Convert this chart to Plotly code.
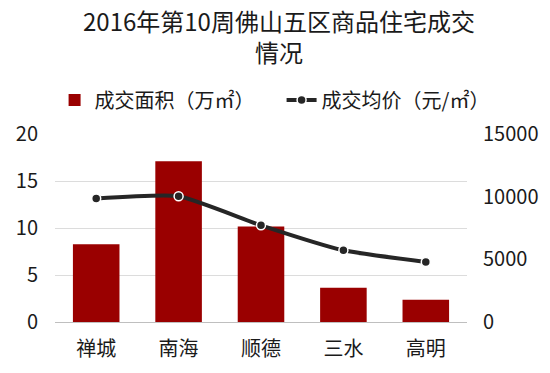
import plotly.graph_objects as go

categories = ["禅城", "南海", "顺德", "三水", "高明"]
area_values = [8.27, 17.1, 10.15, 3.65, 2.37]
price_values = [9850, 10030, 7715, 5720, 4790]
left_ticks = [0, 5, 10, 15, 20]
right_ticks = [0, 5000, 10000, 15000]
title_lines = ["2016年第10周佛山五区商品住宅成交", "情况"]

FONT = "Noto Sans CJK SC, Noto Sans, sans-serif"
TXT = "#1a1a1a"

fig = go.Figure()
fig.add_trace(go.Bar(
    x=categories, y=area_values, name="成交面积（万㎡）",
    marker=dict(color="#9A0000", line=dict(width=0)),
    yaxis="y",
))
fig.add_trace(go.Scatter(
    x=categories, y=price_values, name="成交均价（元/㎡）",
    mode="lines+markers",
    line=dict(color="#262626", width=4, shape="spline", smoothing=0.5),
    marker=dict(size=9, color="#262626", line=dict(color="white", width=1.5)),
    yaxis="y2",
))

# Two-line centred title
fig.add_annotation(
    text="<br>".join(title_lines), xref="paper", yref="paper",
    x=(271 - 47) / 412, y=(314 - 28) / 188,
    xanchor="center", yanchor="middle", showarrow=False, align="center",
    font=dict(size=24, color=TXT, family=FONT),
)

fig.update_layout(
    width=534, height=357,
    margin=dict(l=47, r=75, t=126, b=43, autoexpand=False),
    paper_bgcolor="white", plot_bgcolor="white",
    font=dict(family=FONT, color=TXT, size=20),
    bargap=0.435,
    showlegend=True,
    legend=dict(orientation="h", x=-0.001, xref="paper", xanchor="left",
                y=(314 - 92) / 188, yanchor="middle", font=dict(size=20, color=TXT),
                entrywidth=182, entrywidthmode="pixels", tracegroupgap=0,
                itemwidth=30),
    xaxis=dict(showgrid=False, showline=True, linecolor="#bfbfbf", linewidth=1,
               ticks="", tickfont=dict(size=20), automargin=False,
               ticklabelstandoff=9),
    yaxis=dict(range=[0, 20], tickvals=left_ticks, showgrid=True,
               gridcolor="#dcdcdc", gridwidth=1, zeroline=False,
               showline=False, ticks="", tickfont=dict(size=20), automargin=False,
               ticklabelstandoff=16),
    yaxis2=dict(range=[0, 15000], tickvals=right_ticks, tickformat="d",
                overlaying="y", side="right", showgrid=False, zeroline=False,
                showline=False, ticks="", tickfont=dict(size=20), automargin=False,
                ticklabelstandoff=15),
)

fig.write_html("out.html")
